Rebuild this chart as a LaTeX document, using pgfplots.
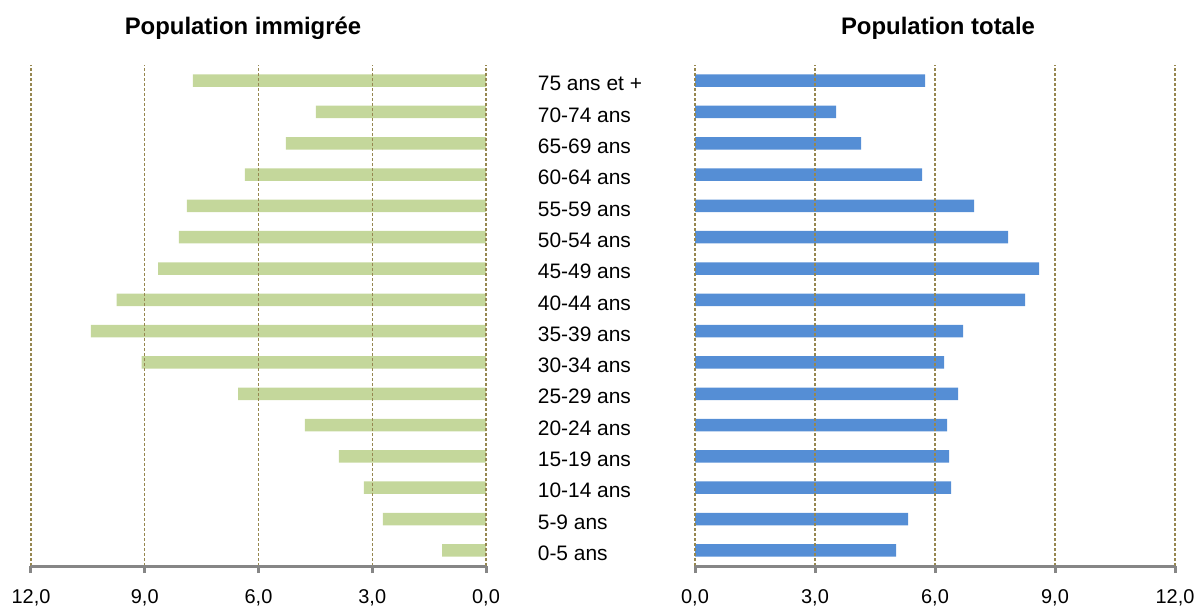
\documentclass[border=0pt]{standalone}
\usepackage{pgfplots}
\pgfplotsset{compat=1.18}
\usepackage{pgfplotstable}
\usepackage{fontspec}
\setmainfont{Liberation Sans}

\definecolor{vertimmig}{RGB}{196,215,155}
\definecolor{bleutot}{RGB}{85,142,213}
\definecolor{gridc}{RGB}{150,135,80}
\definecolor{axisc}{RGB}{134,134,134}

% age group index (0 = 0-5 ans ... 15 = 75 ans et +), share in %
\pgfplotstableread{
age val
0 1.16
1 2.72
2 3.22
3 3.88
4 4.78
5 6.54
6 9.08
7 10.42
8 9.74
9 8.65
10 8.10
11 7.89
12 6.36
13 5.28
14 4.49
15 7.73
}\immigree

\pgfplotstableread{
age val
0 5.03
1 5.33
2 6.40
3 6.35
4 6.30
5 6.58
6 6.23
7 6.70
8 8.25
9 8.60
10 7.83
11 6.98
12 5.68
13 4.15
14 3.53
15 5.75
}\totale

\pgfplotsset{
  pyramide/.style={
    scale only axis,
    height=250.5bp,
    anchor=south west,
    xbar, bar width=6.25bp,
    xmin=0, xmax=12,
    ymin=-0.5, ymax=15.5,
    xtick={0,3,6,9,12},
    axis on top,
    xmajorgrids,
    grid style={gridc, line width=0.6bp, dash pattern=on 1.5bp off 1bp},
    axis x line=bottom,
    x axis line style={-, axisc, line width=1.5bp},
    xtick style={axisc, line width=1.5bp},
    tick align=outside,
    major tick length=3.5bp,
    /pgf/number format/.cd, fixed, fixed zerofill, precision=1, use comma,
      assume math mode=true,
    /pgfplots/.cd,
    xticklabel style={font=\fontsize{10}{12}\selectfont, inner sep=0pt,
      yshift=-8bp},
  },
}

\begin{document}
\begin{tikzpicture}
\begin{axis}[pyramide,
    at={(15.5bp,23bp)},
    width=227.5bp,
    x dir=reverse,
    axis y line=right,
    y axis line style={draw=none},
    ytick style={draw=none},
    ytick={0,...,15},
    yticklabels={0-5 ans,5-9 ans,10-14 ans,15-19 ans,20-24 ans,25-29 ans,
      30-34 ans,35-39 ans,40-44 ans,45-49 ans,50-54 ans,55-59 ans,
      60-64 ans,65-69 ans,70-74 ans,75 ans et +},
    yticklabel style={font=\fontsize{10.5}{12}\selectfont, anchor=west,
      inner sep=0pt, xshift=24bp, yshift=-1.5bp},
]
\addplot[fill=vertimmig, draw=none] table[x=val, y=age] {\immigree};
\end{axis}

\begin{axis}[pyramide,
    at={(347.5bp,23bp)},
    width=240bp,
    axis y line=left,
    y axis line style={draw=none},
    ytick=\empty,
]
\addplot[fill=bleutot, draw=none] table[x=val, y=age] {\totale};
\end{axis}

\node[font=\bfseries\fontsize{12}{14}\selectfont] at (121.5bp,292bp)
  {Population immigrée};
\node[font=\bfseries\fontsize{12}{14}\selectfont] at (469bp,292bp)
  {Population totale};

\pgfresetboundingbox
\path (0,0) rectangle (598.5bp,306bp);
\end{tikzpicture}
\end{document}
